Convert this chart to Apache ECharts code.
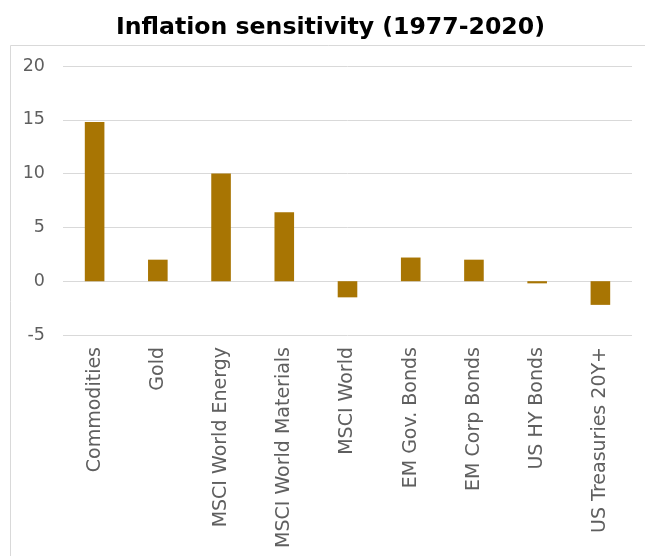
<!DOCTYPE html>
<html>
<head>
<meta charset="utf-8">
<script src="https://cdn.jsdelivr.net/npm/echarts@6/dist/echarts.min.js"></script>
<style>
  html, body { margin: 0; padding: 0; background: #fff; }
  #chart { width: 645px; height: 556px; }
</style>
</head>
<body>
<div id="chart"></div>
<script>
// categories and values
const categories = [
  "Commodities", "Gold", "MSCI World Energy", "MSCI World Materials",
  "MSCI World", "EM Gov. Bonds", "EM Corp Bonds", "US HY Bonds", "US Treasuries 20Y+"
];
const sensitivity = [14.8, 2.0, 10.0, 6.4, -1.5, 2.2, 2.0, -0.2, -2.2];
const yTicks = [-5, 0, 5, 10, 15, 20];

const chart = echarts.init(document.getElementById("chart"));
const font = "DejaVu Sans";

chart.setOption({
  animation: false,
  title: {
    text: "Inflation sensitivity (1977-2020)",
    left: 111,
    top: 11,
    textStyle: { fontFamily: font, fontWeight: "bold", fontSize: 23.6, color: "#000" }
  },
  graphic: [{
    type: "rect",
    shape: { x: 10.5, y: 45.5, width: 640, height: 520 },
    style: { fill: "none", stroke: "#D9D9D9", lineWidth: 1 },
    silent: true
  }],
  grid: { left: 63, right: 13, top: 66, bottom: 221 },
  xAxis: {
    type: "category",
    data: categories,
    axisLine: { show: false, onZero: false },
    axisTick: { show: false },
    axisLabel: {
      rotate: 90,
      interval: 0,
      margin: 12,
      color: "#5f5f5f",
      fontFamily: font,
      fontSize: 19
    }
  },
  yAxis: {
    type: "value",
    min: yTicks[0],
    max: yTicks[yTicks.length - 1],
    interval: 5,
    axisLine: { show: false },
    axisTick: { show: false },
    splitLine: { lineStyle: { color: "#D9D9D9", width: 1 } },
    axisLabel: { color: "#5f5f5f", fontFamily: font, fontSize: 17.5, margin: 18 }
  },
  series: [{
    type: "bar",
    data: sensitivity,
    barWidth: "31%",
    itemStyle: { color: "#A87503" }
  }]
});
</script>
</body>
</html>
